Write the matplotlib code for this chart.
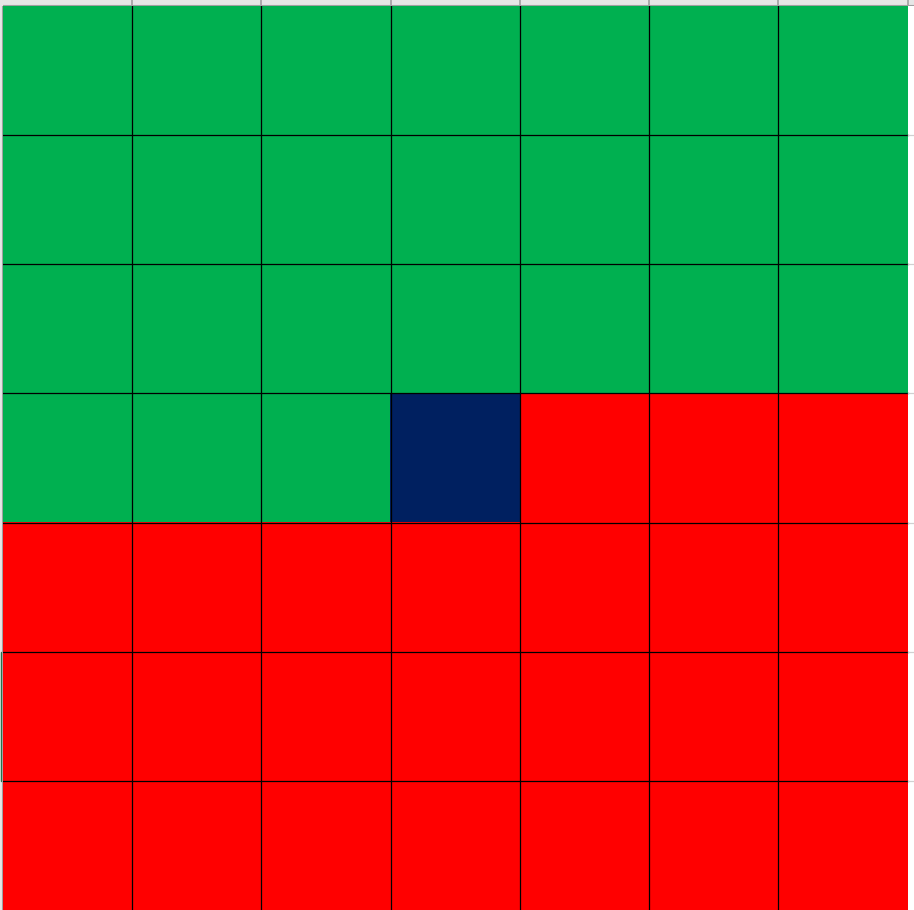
# Spreadsheet block: 7 x 7 cells filled green / dark blue / red
import matplotlib.pyplot as plt
from matplotlib.colors import ListedColormap
from matplotlib.patches import Rectangle
import numpy as np

# Fill code of each cell, row by row from the top
#   0 = green, 1 = dark blue, 2 = red
cell_codes = [
    [0, 0, 0, 0, 0, 0, 0],
    [0, 0, 0, 0, 0, 0, 0],
    [0, 0, 0, 0, 0, 0, 0],
    [0, 0, 0, 1, 2, 2, 2],
    [2, 2, 2, 2, 2, 2, 2],
    [2, 2, 2, 2, 2, 2, 2],
    [2, 2, 2, 2, 2, 2, 2],
]
fill_colours = ['#00B050', '#002060', '#FF0000']
# row whose header is highlighted on the left
selected_row = 5

codes = np.array(cell_codes)
n_rows, n_cols = codes.shape

# Figure size in pixels and sheet chrome sizes
W, H = 914, 910
left_px, top_px = 3.0, 6.0
col_px = (907.5 - left_px) / n_cols
x_max = (W - left_px) / col_px

fig = plt.figure(figsize=(W / 100, H / 100), dpi=100)

# Cells
ax = fig.add_axes([left_px / W, 0, (W - left_px) / W, (H - top_px) / H])
ax.imshow(codes, cmap=ListedColormap(fill_colours), vmin=0, vmax=2,
          extent=(0, n_cols, n_rows, 0), interpolation='nearest', aspect='auto')
ax.set_xlim(0, x_max)
ax.set_ylim(n_rows, 0)
ax.set_facecolor('white')
ax.axis('off')

# Cell borders
for i in range(1, n_cols):
    ax.plot([i, i], [0, n_rows], color='black', lw=0.9)
for j in range(1, n_rows):
    ax.plot([0, n_cols], [j, j], color='black', lw=0.9)
    ax.plot([n_cols, x_max], [j, j], color='#D0D0D0', lw=0.9)

# Column header strip
hdr = fig.add_axes([left_px / W, (H - top_px) / H, (W - left_px) / W, top_px / H])
hdr.set_xlim(0, x_max)
hdr.set_ylim(0, 1)
hdr.set_facecolor('#E6E6E6')
for i in range(1, n_cols + 1):
    hdr.plot([i, i], [0, 1], color='#A0A0A0', lw=1.2)
hdr.plot([0, x_max], [0, 0], color='#A0A0A0', lw=1.5)
hdr.set_xticks([])
hdr.set_yticks([])
for s in hdr.spines.values():
    s.set_visible(False)

# Row header strip
rhdr = fig.add_axes([0, 0, left_px / W, (H - top_px) / H])
rhdr.set_xlim(0, 1)
rhdr.set_ylim(n_rows, 0)
rhdr.set_facecolor('#E6E6E6')
rhdr.add_patch(Rectangle((0.25, selected_row), 0.75, 1, color='#217346'))
rhdr.plot([1, 1], [0, n_rows], color='#A0A0A0', lw=1.5)
rhdr.set_xticks([])
rhdr.set_yticks([])
for s in rhdr.spines.values():
    s.set_visible(False)

# Top-left corner
corner = fig.add_axes([0, (H - top_px) / H, left_px / W, top_px / H])
corner.set_facecolor('#E6E6E6')
corner.set_xticks([])
corner.set_yticks([])
for s in corner.spines.values():
    s.set_visible(False)

fig.savefig('out.png', dpi=100)
